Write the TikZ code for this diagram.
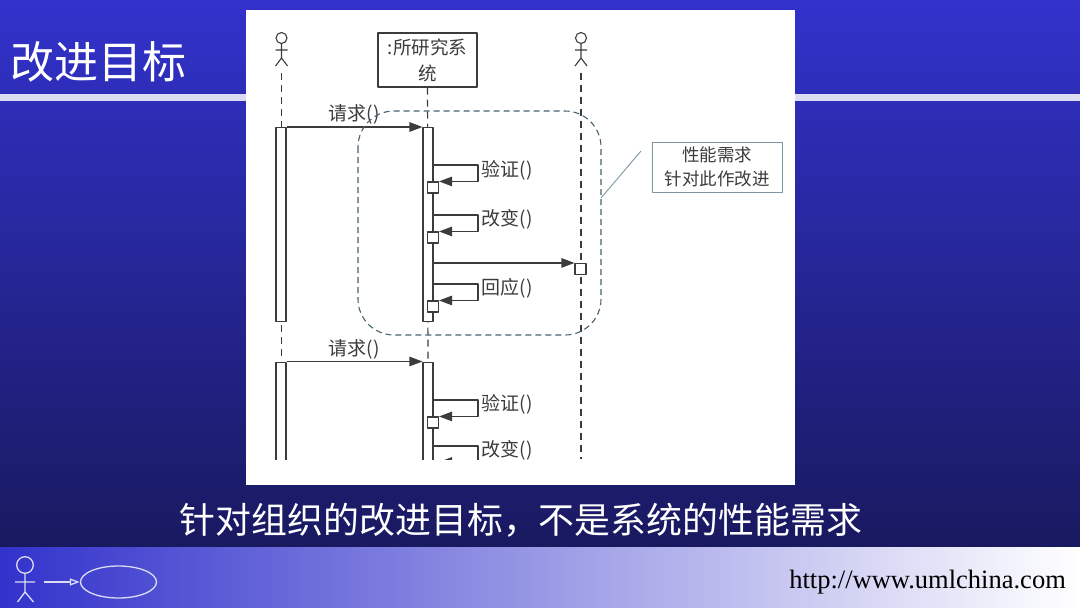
\documentclass[tikz,border=0pt]{standalone}
\usepackage{xcolor}
\usepackage{fontspec}
\setmainfont{Liberation Serif}
\newfontfamily\cjkfont{Noto Sans CJK SC}
\usetikzlibrary{arrows.meta}
\usetikzlibrary{calc}
\usetikzlibrary{positioning}
\usetikzlibrary{shapes.geometric}
\definecolor{slide-top}{HTML}{3232CC}
\definecolor{slide-mid}{HTML}{2929A8}
\definecolor{slide-bottom}{HTML}{191960}
\definecolor{slide-rule}{HTML}{DCDCF4}
\definecolor{seq-ink}{HTML}{3C3C3C}
\definecolor{seq-dash}{HTML}{46636F}
\definecolor{note-edge}{HTML}{7C979F}
\tikzset{
  lifeline/.style={seq-ink, line width=1.1pt, dash pattern=on 7pt off 5pt},
  activation/.style={draw=seq-ink, fill=white, line width=1.1pt, minimum width=10pt, inner sep=0pt, anchor=north},
  tick/.style={draw=seq-ink, fill=white, line width=1.1pt, minimum size=11pt, inner sep=0pt},
  message/.style={seq-ink, line width=1.1pt, -{Triangle[length=13pt,width=9.5pt]}},
  msglabel/.style={text=seq-ink, font=\cjkfont\fontsize{19}{20}\selectfont, inner sep=0pt},
  stickman/.pic={
    \draw (0,-20) circle (5.5);
    \draw (0,-14.5) -- (0,0) (-6,-8) -- (6,-8) (-6,8) -- (0,0) -- (6,8);
  }
}
\begin{document}
\begin{tikzpicture}[x=1pt, y=-1pt, line join=round]
    \useasboundingbox (0,0) rectangle (1080,608);

    % slide background
    \fill[top color=slide-top, middle color=slide-mid, bottom color=slide-bottom] (0,0) rectangle (1080,546);
    \fill[slide-rule] (0,94) rectangle (1080,101);
    \node[text=white, font=\cjkfont\fontsize{44}{48}\selectfont, inner sep=0pt] (title) at (98.5,62) {改进目标};
    \node[text=white, font=\cjkfont\fontsize{35.9}{40}\selectfont, inner sep=0pt] (caption) at (521,520) {针对组织的改进目标，不是系统的性能需求};

    % footer
    \fill[left color=slide-top, right color=white] (0,547) rectangle (1080,608);
    \draw[slide-bottom, line width=1pt] (0,546.5) -- (1080,546.5);
    \node[draw=slide-rule, line width=1.3pt, ellipse, minimum width=76pt, minimum height=32pt, inner sep=0pt] (usecase) at (118.5,582) {};
    \coordinate (footman) at (44,582);
    \draw[slide-rule, line width=1.3pt, -{Triangle[open, length=10pt, width=7pt]}] (footman) -- (usecase.west);
    \draw[slide-rule, line width=1.3pt] (25,565) circle (8.3) (25,573.3) -- (25,592) (15,582) -- (35,582) (17.5,602) -- (25,592) -- (33.5,602);
    \node[anchor=east, inner sep=0pt, font=\fontsize{26.5}{28}\selectfont] (url) at (1066,582) {http://www.umlchina.com};

    % white panel
    \fill[white] (246,10) rectangle (795,485);

    \begin{scope}
    \clip (246,10) rectangle (795,459);

    % actors
    \draw[seq-ink, line width=1.1pt] (281.5,58) pic {stickman};
    \draw[seq-ink, line width=1.1pt] (581,58) pic {stickman};
    \node[draw=seq-ink, line width=1.1pt, fill=white, minimum width=99pt, minimum height=54pt, inner sep=0pt, align=center, text=seq-ink, font=\cjkfont\fontsize{18.5}{26}\selectfont] (system) at (427.5,60) {:所研究系\\统};

    % lifelines
    \coordinate (usertop) at (281.5,73);
    \coordinate (otherfoot) at (581,459);
    \coordinate (othertop) at (581,73);
    \coordinate (usermid) at (281.5,361);
    \coordinate (sysmid) at (428,361);
    \draw[lifeline] (usertop) -- (usermid);
    \draw[lifeline] (system.south) -- (sysmid);
    \draw[lifeline] (othertop) -- (otherfoot);

    % first round
    \node[activation, minimum height=194pt] (userbar) at (281,127) {};
    \node[activation, minimum height=194pt] (sysbar) at (428,127) {};
    \draw[message] (userbar.north east) -- (sysbar.north west);
    \node[msglabel, anchor=south] (request) at (354,124) {请求()};

    \node[tick] (checktick) at (433,187.5) {};
    \node[tick] (changetick) at (433,237.5) {};
    \node[tick] (othertick) at (580.5,269) {};
    \node[tick] (replytick) at (433,306.5) {};
    \coordinate (checkout) at (433,165);
    \coordinate (checkturn) at (478,165);
    \coordinate (changeout) at (433,215);
    \coordinate (changeturn) at (478,215);
    \coordinate (replyout) at (433,284);
    \coordinate (replyturn) at (478,284);
    \coordinate (forwardout) at (sysbar.east |- othertick.north west);
    \draw[message] (checkout) -- (checkturn) |- (checktick.north east);
    \draw[message] (changeout) -- (changeturn) |- (changetick.north east);
    \draw[message] (replyout) -- (replyturn) |- (replytick.north east);
    \draw[message] (forwardout) -- (othertick.north west);
    \node[msglabel, anchor=west] (check) at (481.5,170) {验证()};
    \node[msglabel, anchor=west] (change) at (481.5,219) {改变()};
    \node[msglabel, anchor=west] (reply) at (481.5,288) {回应()};

    % second round
    \node[activation, minimum height=120pt] (userbarb) at (281,361.5) {};
    \node[activation, minimum height=120pt] (sysbarb) at (428,361.5) {};
    \draw[message] (userbarb.north east) -- (sysbarb.north west);
    \node[msglabel, anchor=south] (requestb) at (354,359) {请求()};

    \node[tick] (checktickb) at (433,422.5) {};
    \node[tick] (changetickb) at (433,468) {};
    \coordinate (checkoutb) at (433,400);
    \coordinate (checkturnb) at (478,400);
    \coordinate (changeoutb) at (433,446);
    \coordinate (changeturnb) at (478,446);
    \draw[message] (checkoutb) -- (checkturnb) |- (checktickb.north east);
    \draw[message] (changeoutb) -- (changeturnb) |- (changetickb.north east);
    \node[msglabel, anchor=west] (checkb) at (481.5,404) {验证()};
    \node[msglabel, anchor=west] (changeb) at (481.5,450) {改变()};

    % improved region
    \draw[seq-dash, line width=1.1pt, dash pattern=on 6pt off 4pt, rounded corners=36pt] (358,111) rectangle (601,335);
    \coordinate (regionedge) at (601,198);

    % note
    \node[draw=note-edge, line width=1pt, fill=white, minimum width=130pt, minimum height=50pt, inner sep=0pt, align=center, text=seq-ink, font=\cjkfont\fontsize{17.5}{24}\selectfont] (note) at (717,167) {性能需求\\针对此作改进};
    \coordinate (noteend) at (641,151);
    \draw[note-edge, line width=0.9pt] (regionedge) -- (noteend);
    \end{scope}
\end{tikzpicture}
\end{document}
